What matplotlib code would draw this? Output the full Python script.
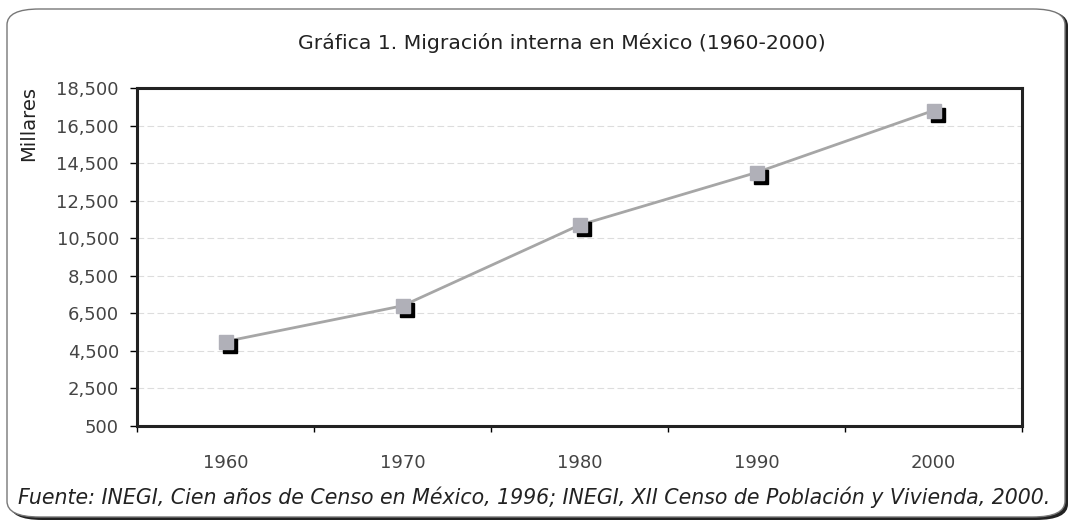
import matplotlib
matplotlib.use("Agg")
import matplotlib.pyplot as plt
from matplotlib.patches import FancyBboxPatch
import numpy as np

years = ["1960", "1970", "1980", "1990", "2000"]
migrantes = [5000, 6900, 11200, 14000, 17300]   # millares
yticks = [500, 2500, 4500, 6500, 8500, 10500, 12500, 14500, 16500, 18500]

plt.rcParams['font.family'] = ['DejaVu Sans']

fig = plt.figure(figsize=(10.75, 5.26), dpi=100)
W, H = 1075, 526

# marco redondeado con sombra
shadow = FancyBboxPatch((10 / W, 6 / H), 1058 / W, 510 / H,
                        boxstyle="round,pad=0,rounding_size=0.03",
                        transform=fig.transFigure, facecolor="#222222",
                        edgecolor="none", zorder=0)
frame = FancyBboxPatch((7 / W, 9 / H), 1058 / W, 508 / H,
                       boxstyle="round,pad=0,rounding_size=0.03",
                       transform=fig.transFigure, facecolor="white",
                       edgecolor="#777777", linewidth=1.0, zorder=1)
fig.patches.extend([shadow, frame])

ax = fig.add_axes([137 / W, 1 - 426 / H, 885 / W, 338 / H])
ax.set_zorder(2)
x = np.arange(len(years))

ax.plot(x, migrantes, color="#a6a6a6", linewidth=2, zorder=3)
# sombra del marcador
ax.plot(x + 0.025, np.array(migrantes) - 220, linestyle="none", marker="s",
        markersize=10, color="black", zorder=4)
ax.plot(x, migrantes, linestyle="none", marker="s", markersize=10,
        color="#b0b0b8", zorder=5)

ax.set_xlim(-0.5, len(years) - 0.5)
ax.set_ylim(500, 18500)
ax.set_yticks(yticks)
ax.set_yticklabels([f"{v:,}" for v in yticks])
ax.set_xticks(x)
ax.set_xticklabels(years)
ax.set_xticks(np.arange(-0.5, len(years), 1), minor=True)
ax.tick_params(axis="x", which="major", length=0, pad=20)
ax.tick_params(axis="x", which="minor", length=4, width=1, direction="out")
ax.tick_params(axis="y", length=5, width=1, pad=8)
ax.tick_params(labelsize=13, labelcolor="#444444")
for s in ax.spines.values():
    s.set_linewidth(2.2)
    s.set_color("#222222")
ax.grid(axis="y", color="#dddddd", linestyle=(0, (6, 3)), linewidth=0.8)
ax.set_axisbelow(True)

ax.set_ylabel("Millares", fontsize=14, color="#222222")
ax.yaxis.set_label_coords(-0.112, 0.895)

fig.text(0.523, 1 - 43 / H, "Gráfica 1. Migración interna en México (1960-2000)",
         ha="center", va="center", fontsize=14.7, color="#222222", zorder=3)
fig.text(18 / W, 1 - 497 / H,
         "Fuente: INEGI, Cien años de Censo en México, 1996; INEGI, XII Censo de Población y Vivienda, 2000.",
         ha="left", va="center", fontsize=14.8, style="italic", color="#222222",
         zorder=3)

fig.savefig("out.png", dpi=100)
